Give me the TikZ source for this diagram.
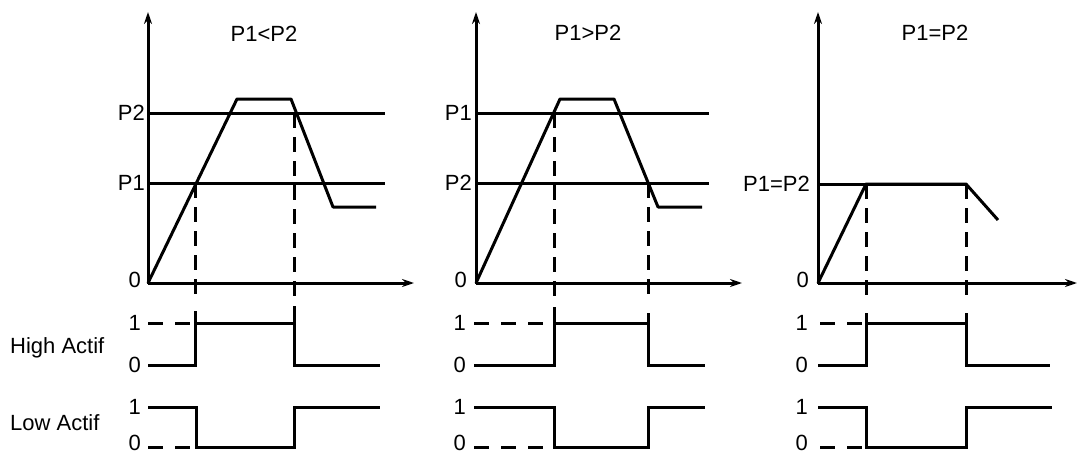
\documentclass[tikz,border=0pt]{standalone}
\usepackage{fontspec}
\setmainfont{Liberation Sans}
\usetikzlibrary{arrows.meta}

\begin{document}
\begin{tikzpicture}[x=1pt,y=-1pt,>={Stealth[length=12pt,width=8pt]},
  sig/.style={line width=3pt},
  guide/.style={line width=3pt,dash pattern=on 15pt off 9pt},
  lvl/.style={line width=3pt,dash pattern=on 15pt off 12pt},
  lbl/.style={font=\fontsize{22}{24}\selectfont,inner sep=0pt}]
\useasboundingbox (0,0) rectangle (1077,455);
% row labels
\node[lbl,anchor=west] (high) at (10,348) {High Actif};
\node[lbl,anchor=west] (low) at (10,423) {Low Actif};
% panel 1
\node[lbl] (t1) at (264,34) {P1<P2};
\draw[sig,->] (148,284) -- (148,12);
\draw[sig,->] (148,283) -- (414,283);
\draw[sig] (148,113) -- (385,113) (148,183) -- (385,183);
\draw[sig,line join=round] (148,283) -- (237,99) -- (291,99) -- (333,207) -- (376,207);
\draw[guide] (195,183) -- (195,298) (294,113) -- (294,298);
\node[lbl,anchor=east] (p2a) at (145,113) {P2};
\node[lbl,anchor=east] (p1a) at (145,183) {P1};
\node[lbl,anchor=east] (z1) at (141,280) {0};
\draw[lvl] (148,323) -- (195,323);
\draw[sig] (148,365) -- (195,365) -- (195,311) (195,323) -- (294,323) (294,306) -- (294,365) -- (380,365);
\draw[lvl] (148,447) -- (196,447);
\draw[sig] (148,407) -- (196,407) -- (196,447) -- (294,447) -- (294,407) -- (380,407);
\node[lbl,anchor=east] (h1a) at (141,323) {1};
\node[lbl,anchor=east] (h0a) at (141,365) {0};
\node[lbl,anchor=east] (l1a) at (141,407) {1};
\node[lbl,anchor=east] (l0a) at (141,443) {0};
% panel 2
\node[lbl] (t2) at (588,33) {P1>P2};
\draw[sig,->] (476,284) -- (476,12);
\draw[sig,->] (476,283) -- (742,283);
\draw[sig] (476,113) -- (709,113) (476,183) -- (709,183);
\draw[sig,line join=round] (476,283) -- (560,99) -- (614,99) -- (658,207) -- (702,207);
\draw[guide] (554,113) -- (554,298) (648,183) -- (648,298);
\node[lbl,anchor=east] (p1b) at (472,113) {P1};
\node[lbl,anchor=east] (p2b) at (472,183) {P2};
\node[lbl,anchor=east] (z2) at (467,280) {0};
\draw[lvl] (474,323) -- (554,323);
\draw[sig] (474,365) -- (554,365) -- (554,307) (554,323) -- (648,323) (648,313) -- (648,365) -- (705,365);
\draw[lvl] (474,447) -- (554,447);
\draw[sig] (474,407) -- (554,407) -- (554,447) -- (648,447) -- (648,407) -- (705,407);
\node[lbl,anchor=east] (h1b) at (466,323) {1};
\node[lbl,anchor=east] (h0b) at (466,365) {0};
\node[lbl,anchor=east] (l1b) at (466,407) {1};
\node[lbl,anchor=east] (l0b) at (466,443) {0};
% panel 3
\node[lbl] (t3) at (935,33) {P1=P2};
\draw[sig,->] (818,284) -- (818,12);
\draw[sig,->] (818,283) -- (1077,283);
\draw[sig] (818,184) -- (966,184);
\draw[sig,line join=round] (818,283) -- (866,184) -- (966,184) -- (998,220);
\draw[guide] (866,184) -- (866,298) (966,184) -- (966,298);
\node[lbl,anchor=east] (p3) at (810,184) {P1=P2};
\node[lbl,anchor=east] (z3) at (809,280) {0};
\draw[lvl] (820,323) -- (866,323);
\draw[sig] (818,365) -- (866,365) -- (866,313) (866,323) -- (966,323) (966,313) -- (966,365) -- (1050,365);
\draw[lvl] (820,447) -- (866,447);
\draw[sig] (818,407) -- (866,407) -- (866,447) -- (966,447) -- (966,407) -- (1052,407);
\node[lbl,anchor=east] (h1c) at (808,323) {1};
\node[lbl,anchor=east] (h0c) at (808,365) {0};
\node[lbl,anchor=east] (l1c) at (808,407) {1};
\node[lbl,anchor=east] (l0c) at (808,443) {0};
\end{tikzpicture}
\end{document}
